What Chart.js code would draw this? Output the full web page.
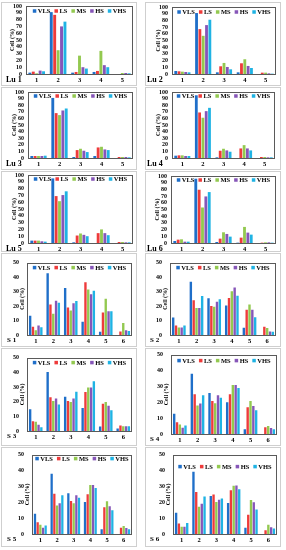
<!DOCTYPE html>
<html>
<head>
<meta charset="utf-8">
<script src="https://cdn.jsdelivr.net/npm/chart.js@4"></script>
<style>
  body { margin: 0; background: #fff; }
  #fig { position: relative; width: 286px; height: 550px; overflow: hidden; }
  .frame { position: absolute; border: 1px solid #cfcfcf; box-sizing: border-box; }
  canvas { position: absolute; }
  .tag { position: absolute; font: bold 8px "Liberation Serif", serif; color: #000; line-height: 1; white-space: nowrap; }
</style>
</head>
<body>
<div id="fig"></div>
<script>
// series and categories
const seriesNames = ['VLS', 'LS', 'MS', 'HS', 'VHS'];
const seriesColors = ['#1f6fc9', '#ee3b3b', '#93c950', '#8656b8', '#1fb3e4'];
const luGroups = ['1', '2', '3', '4', '5'];
const sGroups = ['1', '2', '3', '4', '5', '6'];
const luTicks = [0, 10, 20, 30, 40, 50, 60, 70, 80, 90, 100];
const sTicks = [0, 10, 20, 30, 40, 50];

// Cell (%) values, one row per series (VLS, LS, MS, HS, VHS)
const lu1 = [
  [2, 91, 2, 3, 0],
  [3.5, 87, 3, 4.5, 0],
  [1, 35, 27, 34, 1.5],
  [5, 70, 10, 13, 1.5],
  [4, 77, 8, 10, 1]
];
const lu2 = [
  [4.5, 91, 2.5, 2.5, 0],
  [4, 67, 11.5, 16, 2],
  [3.5, 57, 16.5, 22, 2],
  [3, 73, 10.5, 12, 1],
  [2.5, 81, 7, 9, 0.5]
];
const lu3 = [
  [3, 91, 1.5, 3, 0],
  [3, 68, 12, 16, 1.5],
  [3, 65, 14, 17, 1.5],
  [3, 72, 11, 13, 1.5],
  [3.5, 75, 9, 12, 1]
];
const lu4 = [
  [3.5, 95, 1, 0, 0],
  [4, 69, 11, 14.5, 1.5],
  [4, 61, 14, 19.5, 1.5],
  [3, 71, 11.5, 14.5, 1],
  [3, 76, 9.5, 11.5, 1]
];
const lu5 = [
  [3.5, 95, 1, 0, 0],
  [3.5, 69, 11, 14.5, 1.5],
  [3.5, 61.5, 14, 20, 1.5],
  [2.5, 70.5, 12, 14.5, 1],
  [2, 76, 10, 11.5, 1]
];
const lu6 = [
  [3, 96, 1.5, 0.5, 0],
  [5, 79.5, 6.5, 8, 0.5],
  [5.5, 53, 16, 24, 1],
  [2, 69.5, 13.5, 15.5, 1],
  [2, 76, 9.5, 12.5, 0.5]
];
const s1 = [
  [13.3, 42.7, 32.4, 9.2, 2.2, 0],
  [5.7, 21, 19, 36.5, 15.5, 2.4],
  [3.3, 14.7, 17, 31.5, 25, 8.3],
  [6.6, 23.6, 21.9, 28.2, 16.4, 3.3],
  [5.3, 22.3, 23.4, 30.6, 16.4, 2.8]
];
const s2 = [
  [12, 36.8, 25.4, 20.4, 5, 0],
  [6.5, 24, 20.1, 25.6, 17.5, 5.7],
  [5.2, 18.6, 19.5, 30.2, 21, 4.8],
  [5.2, 18.6, 23, 32.8, 17.5, 2.4],
  [6.5, 27, 24.7, 27.1, 12.2, 2.2]
];
const s3 = [
  [14.8, 40.2, 23.3, 15.7, 3, 1.7],
  [6.7, 23, 20.4, 26.5, 18.5, 3.7],
  [6.3, 20.4, 19.8, 29.6, 19.8, 3.3],
  [4.3, 22.2, 22.2, 29.6, 17.2, 3.3],
  [2.6, 18, 26.7, 33.9, 14.1, 3.3]
];
const s4 = [
  [12.8, 38, 25.8, 20, 3, 0],
  [7.4, 25, 20.8, 25, 16.8, 4.2],
  [6, 18, 19.4, 30.8, 20.8, 5],
  [4, 19.2, 24.4, 30.8, 17.6, 3.8],
  [5.4, 24.4, 22.8, 29, 15, 3]
];
const s5 = [
  [12.8, 38, 25.6, 20.2, 3, 0],
  [7.4, 25.4, 20.8, 25, 16.8, 4],
  [5.8, 18, 19.4, 30.8, 20.6, 5],
  [4, 19.4, 24.4, 30.8, 17.4, 3.8],
  [5.4, 24.4, 22.8, 29, 15, 3]
];
const s6 = [
  [13.4, 39.2, 24, 19.6, 4, 0],
  [6.6, 26.4, 24.8, 27.6, 12.2, 2.4],
  [4.6, 17.2, 20.2, 30.4, 21.4, 5.8],
  [4.6, 19, 21.6, 30.6, 20, 4.2],
  [7, 23.6, 22.4, 28.2, 15.4, 3.4]
];

// layout: plot area [left, top, right, bottom], outer frame [x0, y0, x1, y1]
const panels = [
  { name: 'Lu 1', data: lu1, groups: luGroups, ticks: luTicks, lu: true, area: [26, 6, 133, 74], frame: [1, 2, 137, 86], tagX: 6, legendY: 5 },
  { name: 'Lu 2', data: lu2, groups: luGroups, ticks: luTicks, lu: true, area: [172, 7, 276, 74], frame: [145, 2, 281, 86], tagX: 147, legendY: 5 },
  { name: 'Lu 3', data: lu3, groups: luGroups, ticks: luTicks, lu: true, area: [28, 92, 133, 158], frame: [1, 87, 137, 170], tagX: 6, legendY: 4 },
  { name: 'Lu 4', data: lu4, groups: luGroups, ticks: luTicks, lu: true, area: [172, 92, 275, 158], frame: [145, 87, 281, 170], tagX: 147, legendY: 4 },
  { name: 'Lu 5', data: lu5, groups: luGroups, ticks: luTicks, lu: true, area: [28, 175, 133, 243], frame: [1, 171, 137, 252], tagX: 6, legendY: 4 },
  { name: 'Lu 6', data: lu6, groups: luGroups, ticks: luTicks, lu: true, area: [171, 176, 276, 243], frame: [145, 171, 281, 252], tagX: 147, legendY: 4 },
  { name: 'S 1', data: s1, groups: sGroups, ticks: sTicks, lu: false, area: [27, 259, 132, 335], frame: [1, 253, 137, 347], tagX: 7, legendY: 5 },
  { name: 'S 2', data: s2, groups: sGroups, ticks: sTicks, lu: false, area: [170, 259, 276, 335], frame: [145, 253, 281, 347], tagX: 150, legendY: 5 },
  { name: 'S 3', data: s3, groups: sGroups, ticks: sTicks, lu: false, area: [27, 354, 132, 431], frame: [1, 348, 137, 446], tagX: 7, legendY: 5 },
  { name: 'S 4', data: s4, groups: sGroups, ticks: sTicks, lu: false, area: [171, 351, 277, 434], frame: [145, 348, 281, 446], tagX: 150, legendY: 6 },
  { name: 'S 5', data: s5, groups: sGroups, ticks: sTicks, lu: false, area: [32, 451, 132, 534], frame: [1, 447, 137, 547], tagX: 7, legendY: 4 },
  { name: 'S 6', data: s6, groups: sGroups, ticks: sTicks, lu: false, area: [173, 451, 277, 534], frame: [145, 447, 281, 547], tagX: 150, legendY: 12 }
];

Chart.defaults.font.family = '"Liberation Serif", "Times New Roman", serif';
Chart.defaults.font.weight = 'bold';
Chart.defaults.color = '#000';

// legend row drawn inside the plot area
const insideLegend = {
  id: 'insideLegend',
  afterDatasetsDraw(chart, args, opts) {
    const { ctx, chartArea } = chart;
    const box = 3.5, gap = 1.5, pad = 4;
    ctx.save();
    ctx.font = 'bold 6.5px "Liberation Serif"';
    ctx.textBaseline = 'middle';
    const items = chart.data.datasets.map(d => ({ text: d.label, color: d.backgroundColor, w: box + gap + ctx.measureText(d.label).width }));
    const total = items.reduce((s, it) => s + it.w, 0) + pad * (items.length - 1);
    let x = (chartArea.left + chartArea.right) / 2 - total / 2;
    const y = chartArea.top + opts.offset;
    items.forEach(it => {
      ctx.fillStyle = it.color;
      ctx.fillRect(x, y - box / 2, box, box);
      ctx.fillStyle = '#000';
      ctx.fillText(it.text, x + box + gap, y + 0.5);
      x += it.w + pad;
    });
    ctx.restore();
  }
};

const plotFrame = {
  id: 'plotFrame',
  afterDatasetsDraw(chart) {
    const { ctx, chartArea: a } = chart;
    ctx.save();
    ctx.strokeStyle = '#5a5a5a';
    ctx.lineWidth = 1;
    ctx.strokeRect(Math.round(a.left) + 0.5, Math.round(a.top) + 0.5, Math.round(a.right - a.left) - 1, Math.round(a.bottom - a.top));
    ctx.restore();
  }
};

const fig = document.getElementById('fig');
panels.forEach(p => {
  const [L, T, R, B] = p.area;
  const [fx0, fy0, fx1, fy1] = p.frame;
  const f = document.createElement('div');
  f.className = 'frame';
  f.style.left = fx0 + 'px'; f.style.top = fy0 + 'px';
  f.style.width = (fx1 - fx0) + 'px'; f.style.height = (fy1 - fy0) + 'px';
  fig.appendChild(f);

  const cl = L - 26, ct = T - 8;
  const cv = document.createElement('canvas');
  cv.width = R - cl + 4;
  cv.height = B + 14 - ct;
  cv.style.left = cl + 'px'; cv.style.top = ct + 'px';
  fig.appendChild(cv);

  const tag = document.createElement('div');
  tag.className = 'tag';
  tag.textContent = p.name;
  tag.style.left = p.tagX + 'px';
  tag.style.top = (B + 2) + 'px';
  if (!p.lu) tag.style.fontSize = '7px';
  fig.appendChild(tag);

  new Chart(cv, {
    type: 'bar',
    data: {
      labels: p.groups,
      datasets: seriesNames.map((n, i) => ({
        label: n,
        data: p.data[i],
        backgroundColor: seriesColors[i],
        borderWidth: 0,
        categoryPercentage: 0.8,
        barPercentage: 0.85
      }))
    },
    options: {
      responsive: false,
      animation: false,
      layout: { padding: { top: 8, right: 4, left: 0, bottom: 0 } },
      plugins: { legend: { display: false }, tooltip: { enabled: false }, insideLegend: { offset: p.legendY } },
      scales: {
        x: {
          grid: { display: false, drawTicks: false },
          border: { display: false },
          ticks: { font: { size: 6.5 }, padding: 2 },
          afterFit: s => { s.height = 14; }
        },
        y: {
          min: 0,
          max: p.ticks[p.ticks.length - 1],
          grid: { display: false, drawTicks: false },
          border: { display: false },
          ticks: { font: { size: 6 }, padding: p.lu ? 4 : 8, autoSkip: false },
          afterBuildTicks: s => { s.ticks = p.ticks.map(v => ({ value: v })); },
          afterFit: s => { s.width = 26; },
          title: { display: true, text: 'Cell (%)', font: { size: 6 }, padding: { top: p.lu ? 8.4 : 17.4, bottom: 0 } }
        }
      }
    },
    plugins: [insideLegend, plotFrame]
  });
});
</script>
</body>
</html>
